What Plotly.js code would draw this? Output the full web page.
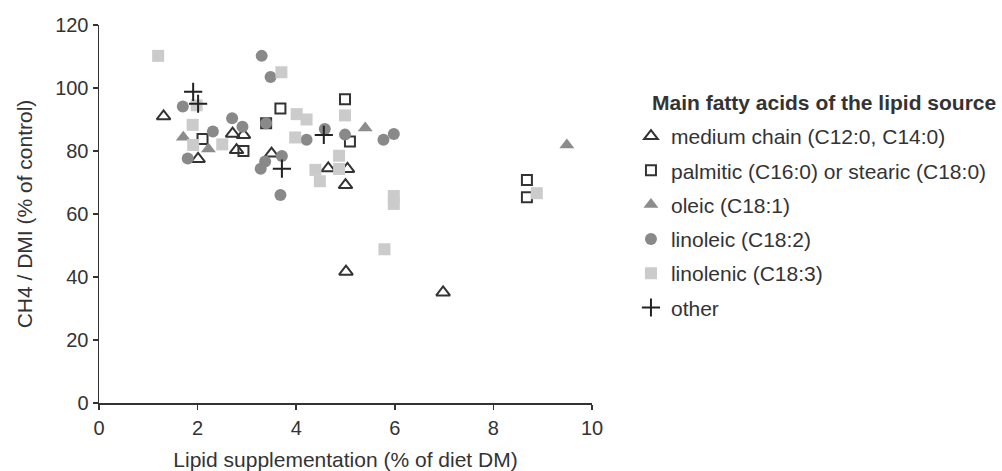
<!DOCTYPE html>
<html>
<head>
<meta charset="utf-8">
<script src="https://cdn.plot.ly/plotly-3.0.1.min.js"></script>
<style>html,body{margin:0;padding:0;background:#fff;}#chart{width:1002px;height:471px;}</style>
</head>
<body>
<div id="chart"></div>
<script>
// ---- data ----
const legendTitle = "Main fatty acids of the lipid source";
const seriesNames = [
  "medium chain (C12:0, C14:0)",
  "palmitic (C16:0) or stearic (C18:0)",
  "oleic (C18:1)",
  "linoleic (C18:2)",
  "linolenic (C18:3)",
  "other"
];
const mediumX = [1.31, 2.01, 2.71, 2.93, 2.79, 3.50, 4.65, 5.04, 5.00, 5.01, 6.98];
const mediumY = [91.0, 77.5, 85.5, 85.1, 80.3, 79.2, 74.5, 74.3, 69.2, 41.7, 35.1];
const palmX = [2.10, 2.93, 3.39, 3.68, 4.99, 5.09, 8.68, 8.68];
const palmY = [83.8, 80.0, 88.8, 93.5, 96.4, 83.0, 70.8, 65.3];
const oleicX = [1.71, 2.22, 5.40, 9.49];
const oleicY = [84.4, 80.6, 87.3, 81.9];
const linoleicX = [1.70, 1.80, 2.31, 2.70, 2.91, 3.30, 3.48, 3.39, 3.37, 3.28, 3.71, 3.68, 4.21, 4.58, 4.99, 5.77, 5.98];
const linoleicY = [94.1, 77.6, 86.2, 90.4, 87.7, 110.2, 103.5, 88.8, 76.7, 74.4, 78.4, 66.0, 83.6, 87.0, 85.2, 83.6, 85.4];
const linolenicX = [1.20, 1.98, 1.90, 1.91, 2.50, 3.70, 4.01, 4.21, 3.98, 4.39, 4.48, 4.87, 4.87, 4.99, 5.98, 5.98, 5.79, 8.88];
const linolenicY = [110.2, 94.5, 88.3, 81.9, 82.1, 105.0, 91.7, 90.0, 84.3, 74.0, 70.4, 78.5, 74.3, 91.3, 65.7, 63.2, 48.8, 66.6];
const otherX = [1.91, 2.01, 3.71, 4.56];
const otherY = [98.8, 95.0, 74.4, 85.1];
const xTicks = [0, 2, 4, 6, 8, 10];
const yTicks = [0, 20, 40, 60, 80, 100, 120];

const dark = "#333333";
function tr(i, x, y, marker) {
  return {type: "scatter", mode: "markers", x: x, y: y, name: seriesNames[i],
          legendgroup: "g" + i, marker: marker, hoverinfo: "x+y"};
}
const traces = [
  tr(0, mediumX, mediumY, {symbol: "triangle-up-open", size: 12, color: dark, line: {width: 2, color: dark}}),
  tr(1, palmX, palmY, {symbol: "square-open", size: 10, color: dark, line: {width: 2, color: dark}}),
  tr(2, oleicX, oleicY, {symbol: "triangle-up", size: 13, color: "#8c8c8c", line: {width: 0}}),
  tr(3, linoleicX, linoleicY, {symbol: "circle", size: 12, color: "#898989", line: {width: 0}}),
  tr(4, linolenicX, linolenicY, {symbol: "square", size: 12, color: "#cbcbcb", line: {width: 0}}),
  tr(5, otherX, otherY, {symbol: "cross-thin", size: 13, color: "#222", line: {width: 2, color: "#222"}})
];

const font = {family: "Liberation Sans, Arial, sans-serif", size: 21, color: dark};
const layout = {
  width: 1002, height: 471,
  margin: {l: 99, r: 410, t: 25, b: 68, pad: 0, autoexpand: false},
  paper_bgcolor: "#fff", plot_bgcolor: "#fff",
  font: font,
  showlegend: true,
  xaxis: {
    range: [0, 10], tickvals: xTicks, ticktext: xTicks.map(String),
    showline: true, linecolor: dark, linewidth: 1.5, ticks: "outside", ticklen: 5, tickwidth: 1.5, tickcolor: dark,
    showgrid: false, zeroline: false, tickfont: {size: 20, color: dark}, ticklabelstandoff: 1,
    title: {text: "Lipid supplementation (% of diet DM)", font: {size: 21, color: dark}, standoff: 16}
  },
  yaxis: {
    range: [0, 120], tickvals: yTicks, ticktext: yTicks.map(String),
    showline: true, linecolor: dark, linewidth: 1.5, ticks: "outside", ticklen: 5, tickwidth: 1.5, tickcolor: dark,
    showgrid: false, zeroline: false, tickfont: {size: 20, color: dark},
    title: {text: "CH4 / DMI (% of control)", font: {size: 21, color: dark}, standoff: 17}
  },
  legend: {
    xref: "container", yref: "container",
    x: 0.6297, xanchor: "left", y: 0.754, yanchor: "top",
    font: {size: 21, color: dark}, tracegroupgap: 4, itemsizing: "trace",
    bgcolor: "rgba(0,0,0,0)"
  },
  annotations: [{
    xref: "paper", yref: "paper", x: 1.117, y: 0.7937, xanchor: "left", yanchor: "middle",
    text: "<b>" + legendTitle + "</b>", showarrow: false, font: {size: 21, color: dark}
  }]
};
Plotly.newPlot("chart", traces, layout, {staticPlot: true, displayModeBar: false});
</script>
</body>
</html>
